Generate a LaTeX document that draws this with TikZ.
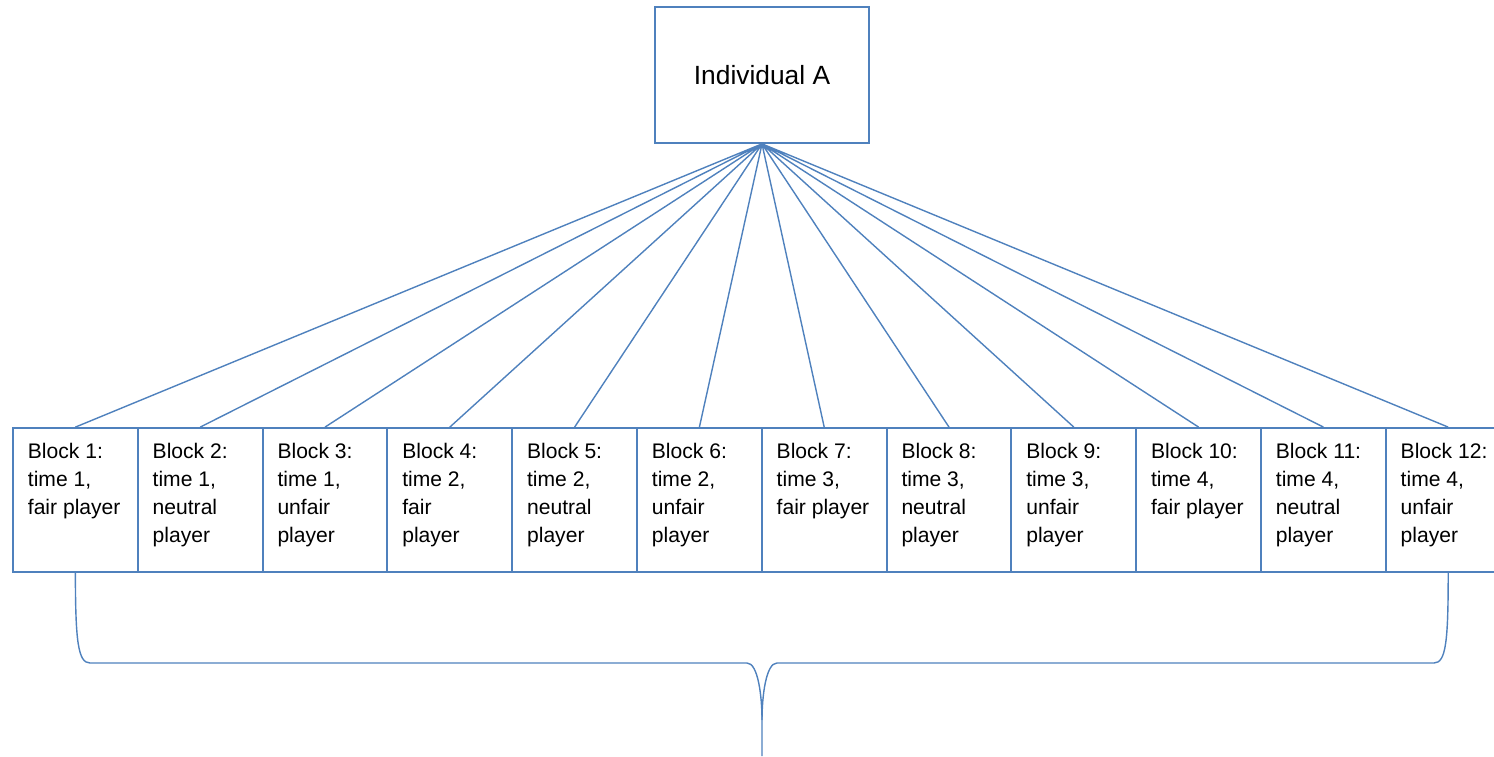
\documentclass[tikz,border=0pt]{standalone}
\usepackage{fontspec}
\setmainfont{Liberation Sans}
\usepackage{xcolor}
\usepackage{tikz}
\usetikzlibrary{positioning}
\definecolor{officeblue}{RGB}{79,129,189}
\newcommand{\blocktext}[1]{\parbox[c][2.28cm][t]{1.9cm}{\raggedright\fontsize{12}{15.9}\selectfont #1}}

\begin{document}
\begin{tikzpicture}[
    every node/.style={font=\fontsize{12}{15.9}\selectfont},
    block/.style={draw=officeblue, line width=1pt, rectangle, inner sep=0.3cm,
                  minimum width=2.496cm, minimum height=2.88cm},
    conn/.style={draw=officeblue, line width=0.8pt}]
    \useasboundingbox (0,0) rectangle (29.88,15.12);

    \node[draw=officeblue, line width=1pt, minimum width=4.28cm, minimum height=2.72cm,
          font=\fontsize{15}{18}\selectfont] (indiv) at (15.24,13.62) {Individual A};

    \node[block] (b1)  at (1.508,5.12)  {\blocktext{Block 1:\\time 1,\\fair player}};
    \node[block] (b2)  at (4.004,5.12)  {\blocktext{Block 2:\\time 1,\\neutral\\player}};
    \node[block] (b3)  at (6.500,5.12)  {\blocktext{Block 3:\\time 1,\\unfair\\player}};
    \node[block] (b4)  at (8.996,5.12)  {\blocktext{Block 4:\\time 2,\\fair\\player}};
    \node[block] (b5)  at (11.492,5.12) {\blocktext{Block 5:\\time 2,\\neutral\\player}};
    \node[block] (b6)  at (13.988,5.12) {\blocktext{Block 6:\\time 2,\\unfair\\player}};
    \node[block] (b7)  at (16.484,5.12) {\blocktext{Block 7:\\time 3,\\fair player}};
    \node[block] (b8)  at (18.980,5.12) {\blocktext{Block 8:\\time 3,\\neutral\\player}};
    \node[block] (b9)  at (21.476,5.12) {\blocktext{Block 9:\\time 3,\\unfair\\player}};
    \node[block] (b10) at (23.972,5.12) {\blocktext{Block 10:\\time 4,\\fair player}};
    \node[block] (b11) at (26.468,5.12) {\blocktext{Block 11:\\time 4,\\neutral\\player}};
    \node[block] (b12) at (28.964,5.12) {\blocktext{Block 12:\\time 4,\\unfair\\player}};

    % fan of lines from the individual
    \draw[conn] (indiv.south) -- (b1.north)  (indiv.south) -- (b2.north)
                (indiv.south) -- (b3.north)  (indiv.south) -- (b4.north)
                (indiv.south) -- (b5.north)  (indiv.south) -- (b6.north)
                (indiv.south) -- (b7.north)  (indiv.south) -- (b8.north)
                (indiv.south) -- (b9.north)  (indiv.south) -- (b10.north)
                (indiv.south) -- (b11.north) (indiv.south) -- (b12.north);

    % brace under the blocks
    \coordinate (tip) at (15.24,0);
    \draw[conn] (b1.south) .. controls (1.508,2.3) and (1.56,1.86) .. (1.80,1.86)
        -- (14.94,1.86) .. controls (15.16,1.86) and (15.24,1.2) .. (15.24,0.72)
        -- (tip);
    \draw[conn] (15.24,0.72) .. controls (15.24,1.2) and (15.32,1.86) .. (15.54,1.86)
        -- (28.68,1.86) .. controls (28.92,1.86) and (28.964,2.3) .. (b12.south);
\end{tikzpicture}
\end{document}
